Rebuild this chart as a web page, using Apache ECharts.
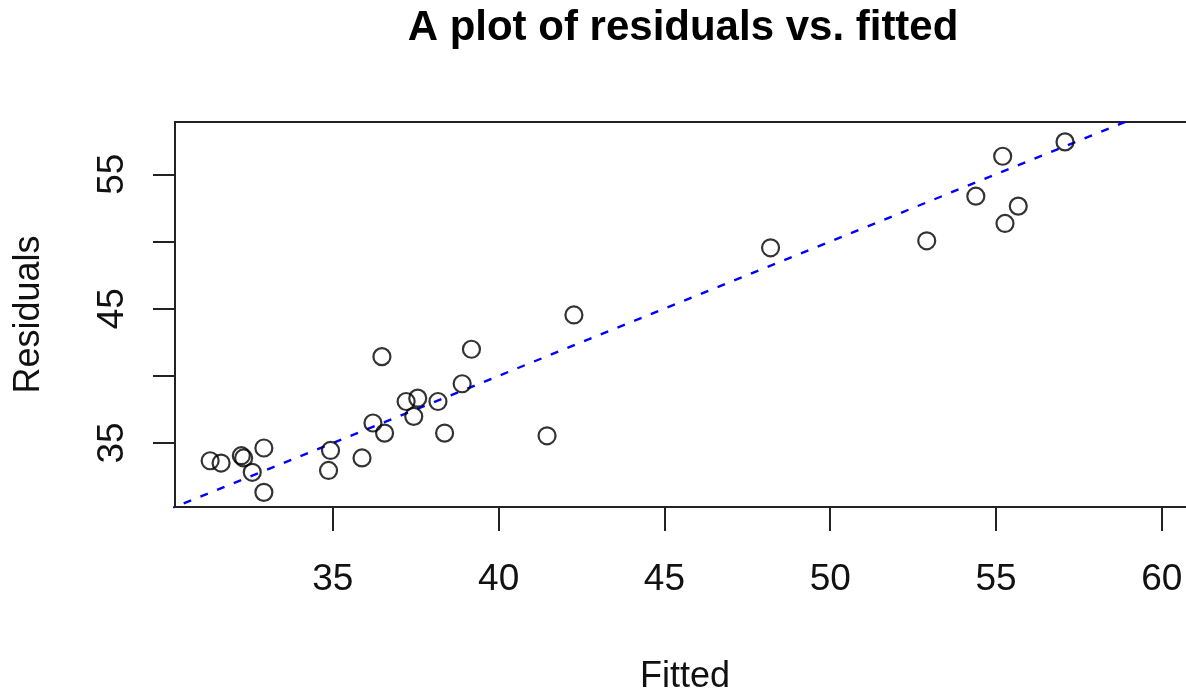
<!DOCTYPE html>
<html>
<head>
<meta charset="utf-8">
<script src="https://cdn.jsdelivr.net/npm/echarts@6/dist/echarts.min.js"></script>
<style>
  html, body { margin: 0; padding: 0; background: #fff; }
  #chart { width: 1186px; height: 694px; }
</style>
</head>
<body>
<div id="chart"></div>
<script>
// values
var fitted = [31.30, 31.63, 32.24, 32.31, 32.57, 32.92, 32.92, 34.93, 34.87, 35.88,
              36.21, 36.56, 36.48, 37.21, 37.56, 37.44, 38.17, 38.37, 38.90, 39.18,
              41.46, 42.27, 48.20, 52.91, 54.39, 55.20, 55.27, 55.67, 57.08];
var observed = [33.68, 33.51, 34.06, 33.89, 32.82, 34.63, 31.33, 34.45, 32.96, 33.89,
                36.49, 35.74, 41.43, 38.09, 38.34, 36.98, 38.09, 35.74, 39.41, 41.98,
                35.54, 44.53, 49.53, 50.05, 53.37, 56.34, 51.34, 52.63, 57.41];
var xTicks = [35, 40, 45, 50, 55, 60];
var yTicks = [35, 40, 45, 50, 55];
var yTickLabels = [35, 45, 55];
// reference line y = x
var refLine = [[30, 30], [62, 62]];

var font = "'Liberation Sans', Arial, sans-serif";

var points = fitted.map(function (f, i) { return [f, observed[i]]; });

var myChart = echarts.init(document.getElementById('chart'));
myChart.setOption({
    animation: false,
    backgroundColor: '#fff',
    title: {
        text: 'A plot of residuals vs. fitted',
        left: 683,
        top: 7,
        padding: 0,
        textAlign: 'center',
        textStyle: {
            fontFamily: font,
            fontSize: 42,
            fontWeight: 'bold',
            color: '#000'
        }
    },
    grid: {
        left: 175,
        top: 122,
        width: 1020,
        height: 385,
        show: true,
        borderColor: '#222',
        borderWidth: 2,
        containLabel: false,
        outerBoundsMode: 'none'
    },
    xAxis: {
        type: 'value',
        min: 30.24,
        max: 61,
        name: 'Fitted',
        nameLocation: 'middle',
        nameGap: 152,
        nameTextStyle: { fontFamily: font, fontSize: 36, color: '#111' },
        axisLine: { show: true, lineStyle: { color: '#222', width: 2 } },
        axisTick: { show: true, length: 24, customValues: xTicks, lineStyle: { color: '#222', width: 2 } },
        axisLabel: { customValues: xTicks, margin: 54, fontFamily: font, fontSize: 37, color: '#111' },
        splitLine: { show: false }
    },
    yAxis: {
        type: 'value',
        min: 30.24,
        max: 58.89,
        name: 'Residuals',
        nameLocation: 'middle',
        nameGap: 128,
        nameTextStyle: { fontFamily: font, fontSize: 36, color: '#111' },
        axisLine: { show: true, lineStyle: { color: '#222', width: 2 } },
        axisTick: { show: true, length: 22, customValues: yTicks, lineStyle: { color: '#222', width: 2 } },
        axisLabel: { customValues: yTickLabels, rotate: 90, margin: 44, fontFamily: font, fontSize: 37, color: '#111' },
        splitLine: { show: false }
    },
    series: [{
        type: 'scatter',
        data: points,
        symbol: 'circle',
        symbolSize: 17,
        itemStyle: {
            color: 'rgba(0,0,0,0)',
            borderColor: '#000',
            borderWidth: 2.2
        },
        z: 3
    }, {
        type: 'line',
        data: refLine,
        symbol: 'none',
        clip: true,
        lineStyle: { color: '#0000ff', width: 2.4, type: [8, 10] },
        z: 2
    }]
});
</script>
</body>
</html>
